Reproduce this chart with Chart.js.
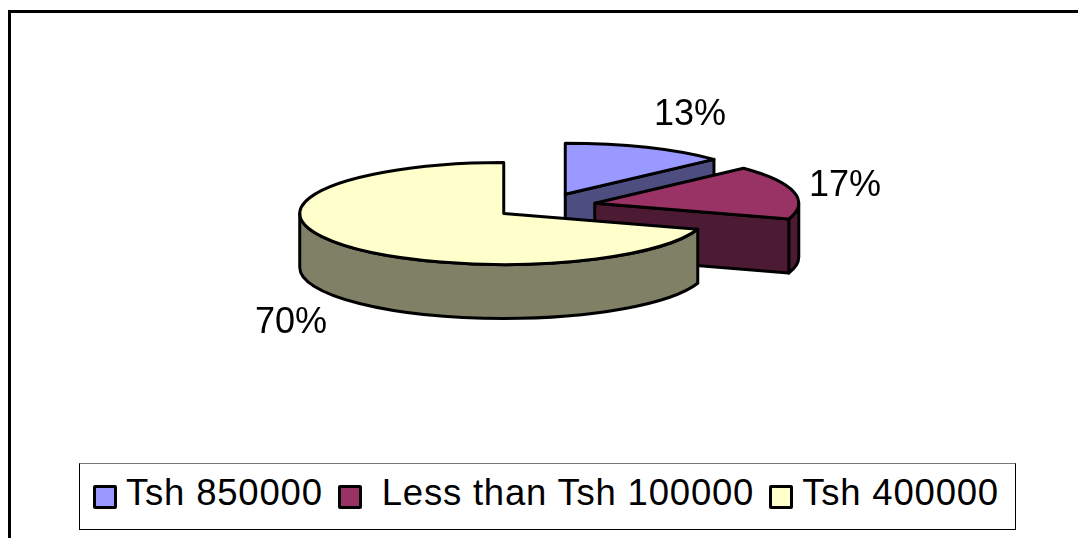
<!DOCTYPE html>
<html>
<head>
<meta charset="utf-8">
<script src="https://cdn.jsdelivr.net/npm/chart.js@4/dist/chart.umd.min.js"></script>
<style>
    body { margin: 0; background: #fff; font-family: "Liberation Sans", Arial, sans-serif; }
    #wrap { position: relative; width: 1078px; height: 538px; overflow: hidden; }
    #frame { position: absolute; left: 8px; top: 10px; right: -5px; bottom: -5px; border: 3px solid #000; }
    #legend {
        position: absolute; left: 79px; top: 463px; width: 922px; height: 65px;
        border: 1px solid #000; border-top-color: #777; background: #fff;
        display: flex; align-items: center; padding-left: 13px; box-sizing: content-box;
        font-size: 36.5px; letter-spacing: 0.8px; color: #000; white-space: pre;
    }
    #legend .box { width: 18px; height: 18px; border: 3px solid #000; border-radius: 2px; margin: 1px 9px 0 0; flex: none; }
    #legend .item { display: flex; align-items: center; margin-right: 15px; }
    #legend .name { position: relative; top: -4px; }
</style>
</head>
<body>
<div id="wrap">
    <div id="frame"></div>
    <canvas id="pie" width="1078" height="538"></canvas>
    <div id="legend"></div>
</div>
<script>
const categories = ['Tsh 850000', ' Less than Tsh 100000', 'Tsh 400000'];
const shares = [13, 17, 70];
const topColors = ['#9999ff', '#993366', '#ffffcc'];
const wallColors = ['#4d4d80', '#4d1a33', '#808066'];

// --- 3D look: squash the flat pie, pull slices apart, add a rim ---
const centerX = 545, centerY = 206;
const tilt = 0.25;
const explode = 51;
const depth = 54;
const labelSpots = [[690, 115], [845, 186], [291, 323]];

// moves the context so the arc element lands on its exploded, squashed spot
function placeArc(ctx, arc) {
    const mid = (arc.startAngle + arc.endAngle) / 2;
    ctx.translate(centerX, centerY);
    ctx.scale(1, tilt);
    ctx.translate(explode * Math.cos(mid) - arc.x, explode * Math.sin(mid) - arc.y);
}

function drawWall(ctx, arc, color) {
    const r = arc.outerRadius;
    const from = Math.max(arc.startAngle, 0);
    const to = Math.min(arc.endAngle, Math.PI);
    const shapes = [];

    // outer rim, only the part that faces the viewer
    if (to > from) {
        shapes.push(() => {
            ctx.arc(arc.x, arc.y, r, from, to);
            ctx.lineTo(arc.x + r * Math.cos(to), arc.y + r * Math.sin(to) + depth / tilt);
            ctx.arc(arc.x, arc.y + depth / tilt, r, to, from, true);
            ctx.closePath();
        });
    }
    // cut face at the end of the slice
    if (Math.cos(arc.endAngle) > 0.001) {
        shapes.push(() => {
            const ex = arc.x + r * Math.cos(arc.endAngle);
            const ey = arc.y + r * Math.sin(arc.endAngle);
            ctx.moveTo(arc.x, arc.y);
            ctx.lineTo(ex, ey);
            ctx.lineTo(ex, ey + depth / tilt);
            ctx.lineTo(arc.x, arc.y + depth / tilt);
            ctx.closePath();
        });
    }

    shapes.forEach(shape => {
        ctx.save();
        placeArc(ctx, arc);
        ctx.beginPath();
        shape();
        ctx.restore();
        ctx.fillStyle = color;
        ctx.fill();
        ctx.lineWidth = 3;
        ctx.lineJoin = 'round';
        ctx.strokeStyle = '#000';
        ctx.stroke();
    });
}

function strokeTop(ctx, arc) {
    ctx.save();
    placeArc(ctx, arc);
    ctx.beginPath();
    ctx.moveTo(arc.x, arc.y);
    ctx.arc(arc.x, arc.y, arc.outerRadius, arc.startAngle, arc.endAngle);
    ctx.closePath();
    ctx.restore();
    ctx.lineWidth = 3;
    ctx.lineJoin = 'round';
    ctx.strokeStyle = '#000';
    ctx.stroke();
}

const pie3d = {
    id: 'pie3d',
    beforeDatasetDraw(chart, args) {
        const ctx = chart.ctx;
        const arcs = args.meta.data;
        arcs.forEach((arc, i) => drawWall(ctx, arc, wallColors[i]));
        arcs.forEach(arc => {
            ctx.save();
            placeArc(ctx, arc);
            arc.draw(ctx, chart.chartArea);
            ctx.restore();
            strokeTop(ctx, arc);
        });
        return false; // already drawn above
    },
    afterDraw(chart) {
        const ctx = chart.ctx;
        ctx.save();
        ctx.fillStyle = '#000';
        ctx.font = '36px "Liberation Sans"';
        ctx.textAlign = 'center';
        ctx.textBaseline = 'middle';
        shares.forEach((share, i) => {
            ctx.fillText(share + '%', labelSpots[i][0], labelSpots[i][1]);
        });
        ctx.restore();
    }
};

new Chart(document.getElementById('pie'), {
    type: 'pie',
    data: {
        labels: categories,
        datasets: [{ data: shares, backgroundColor: topColors, borderWidth: 0 }]
    },
    options: {
        responsive: false,
        animation: false,
        layout: { padding: { left: 10, top: 65, bottom: 65 } },
        plugins: { legend: { display: false }, tooltip: { enabled: false } }
    },
    plugins: [pie3d]
});

// Legend
const legend = document.getElementById('legend');
legend.innerHTML = categories.map((name, i) =>
    `<span class="item"><span class="box" style="background:${topColors[i]}"></span><span class="name">${name}</span></span>`
).join('');
</script>
</body>
</html>
